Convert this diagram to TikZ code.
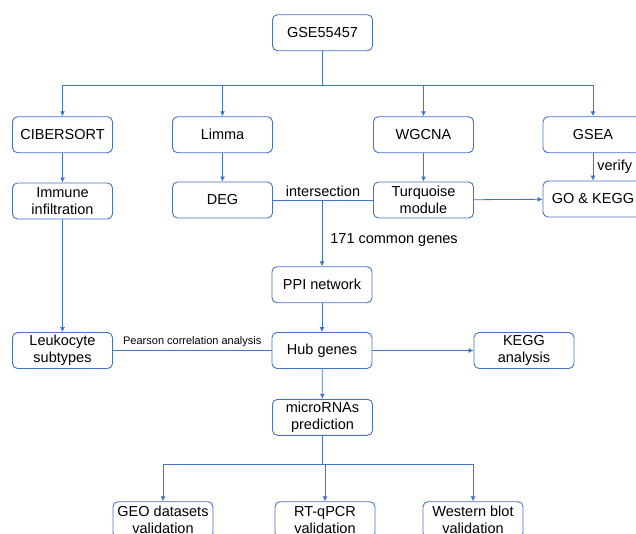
\documentclass[tikz,border=0pt]{standalone}
\usepackage{fontspec}
\setmainfont{Liberation Sans}
\usetikzlibrary{arrows.meta}
\definecolor{flowblue}{RGB}{68,114,196}

\begin{document}
\begin{tikzpicture}[
    x=1pt, y=-1pt,
    box/.style={minimum width=100pt, minimum height=36pt, draw=flowblue, rounded corners=5pt, line width=0.9pt, align=center, inner sep=1pt, font=\fontsize{14.5}{17}\selectfont},
    link/.style={draw=flowblue, line width=0.8pt},
    arr/.style={link, -{Latex[length=5pt, width=5pt]}},
    note/.style={font=\fontsize{14.5}{17}\selectfont}
]
\clip (0,0) rectangle (636,533);

% Top
\node[box] (gse) at (322.5, 32.7) {GSE55457};

% First row
\node[box] (cib) at (62.5, 134.7) {CIBERSORT};
\node[box] (limma) at (222.5, 134.7) {Limma};
\node[box] (wgcna) at (423.5, 134.7) {WGCNA};
\node[box] (gsea) at (593, 134.7) {GSEA};

% Second row
\node[box] (immune) at (62.5, 201) {Immune\\infiltration};
\node[box] (deg) at (222.5, 200) {DEG};
\node[box] (turq) at (423.5, 200) {Turquoise\\module};
\node[box] (gokegg) at (593, 199) {GO \& KEGG};

% Middle
\node[box] (ppi) at (322, 284.7) {PPI network};
\node[box] (leuko) at (62.5, 350.5) {Leukocyte\\subtypes};
\node[box] (hub) at (322, 350.5) {Hub genes};
\node[box] (kegg) at (524, 350.5) {KEGG\\analysis};
\node[box] (mirna) at (322.5, 417.3) {microRNAs\\prediction};

% Bottom row
\node[box] (geo) at (163, 519.7) {GEO datasets\\validation};
\node[box] (qpcr) at (325, 519.7) {RT-qPCR\\validation};
\node[box] (wb) at (473, 519.7) {Western blot\\validation};

% Connectors
\coordinate (top) at (322.5, 85);
\draw[link] (gse) -- (top);
\foreach \n in {cib, limma, wgcna, gsea}
    \draw[arr] (top) -| (\n);

\draw[arr] (cib) -- (immune);
\draw[arr] (limma) -- (deg);
\draw[arr] (wgcna) -- (turq);
\draw[arr] (gsea) -- node[note, right, inner sep=4pt] {verify} (gokegg);

\draw[link] (deg) -- node[note, above] {intersection} (turq);
\coordinate (inter) at (322, 200);
\draw[arr] (inter) -- node[note, right, pos=0.6, inner sep=8pt] {171 common genes} (ppi);
\draw[arr] (turq) -- (gokegg);

\draw[arr] (immune) -- (leuko);
\draw[arr] (ppi) -- (hub);
\draw[link] (leuko) -- node[above, font=\fontsize{11}{13}\selectfont] {Pearson correlation analysis} (hub);
\draw[arr] (hub) -- (kegg);
\draw[arr] (hub) -- (mirna);

\coordinate (fork) at (322.5, 464.3);
\draw[link] (mirna) -- (fork);
\foreach \n in {geo, qpcr, wb}
    \draw[arr] (fork) -| (\n);
\end{tikzpicture}
\end{document}
